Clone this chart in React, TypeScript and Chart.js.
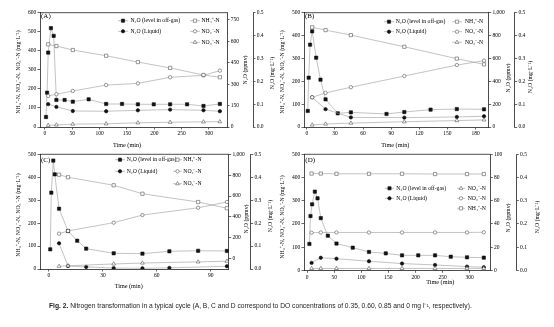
import React, { useEffect, useRef } from 'react';
import { Chart, registerables } from 'chart.js';

Chart.register(...registerables);

// ---------------- DATA ----------------
// Panel A (DO 0.35)
const aOffT = [2, 4, 6, 11, 16, 21, 36, 51, 80, 112, 141, 170, 199, 229, 260, 290, 320];
const aOffV = [70, 240, 521, 692, 638, 189, 189, 177, 194, 161, 161, 159, 159, 159, 159, 147, 161];
const aLiqT = [6, 21, 51, 112, 170, 229, 290, 320];
const aLiqV = [0.1, 0.088, 0.07, 0.069, 0.073, 0.076, 0.073, 0.069];
const aNT = [6, 21, 51, 112, 170, 229, 290, 320];
const aNH4 = [434, 425, 404, 374, 341, 310, 273, 261];
const aNO2 = [163, 172, 189, 220, 229, 261, 271, 296];
const aNO3 = [9, 11, 15, 17, 22, 25, 27, 28];

// Panel B (DO 0.60)
const bOffT = [1, 2, 3.5, 5.7, 10, 14.6, 20, 33, 47, 85, 104, 132, 160, 189];
const bOffV = [140, 431, 720, 837, 606, 414, 242, 120, 128, 114, 131, 152, 157, 155];
const bLiqT = [5.7, 20, 47, 104, 160, 189];
const bLiqV = [0.13, 0.078, 0.042, 0.041, 0.044, 0.047];
const bNT = [5.7, 20, 47, 104, 160, 189];
const bNH4 = [436, 424, 402, 351, 299, 274];
const bNO2 = [130, 149, 174, 223, 271, 290];
const bNO3 = [9, 13, 17, 23, 28, 31];

// Panel C (DO 0.85)
const cOffT = [0.7, 1.3, 2.4, 3.2, 5.6, 10.6, 15.7, 20.7, 36, 52, 67, 83, 99];
const cOffV = [89, 632, 940, 808, 478, 264, 171, 95, 51, 47, 70, 75, 73];
const cLiqT = [5.6, 10.6, 20.7, 36, 52, 67, 99];
const cLiqV = [0.112, 0.013, 0.009, 0.004, 0.003, 0.005, 0.012];
const cNT = [5.6, 10.6, 36, 52, 83, 99];
const cNH4 = [411, 400, 365, 328, 292, 265];
const cNO2 = [154, 166, 202, 235, 267, 292];
const cNO3 = [12, 14, 22, 26, 31, 34];

// Panel D (DO 0)
const dOffT = [4, 6, 9, 14, 19, 25, 38, 54, 84, 114, 145, 175, 205, 236, 265, 295, 326];
const dOffV = [22.7, 46.8, 56.9, 67.8, 62.1, 45, 29.8, 23.1, 19.5, 15.8, 14.6, 12.9, 12.9, 12.9, 11.7, 11.2, 10.9];
const dLiqT = [8, 25, 54, 114, 175, 236, 295, 326];
const dLiqV = [0.032, 0.054, 0.05, 0.039, 0.029, 0.023, 0.016, 0.013];
const dNT = [8, 25, 54, 114, 175, 236, 295, 326];
const dNH4 = [417, 417, 416, 416, 416, 415, 415, 415];
const dNO2 = [162, 163, 163, 163, 163, 163, 163, 164];
const dNO3 = [8, 8, 8, 8, 8, 8, 8, 8];

// Labels
const LBL_OFF = 'N₂O (level in off-gas)';
const LBL_LIQ = 'N₂O (Liquid)';
const LBL_NH4 = 'NH₄⁺-N';
const LBL_NO2 = 'NO₂⁻-N';
const LBL_NO3 = 'NO₃⁻-N';
const TITLE_LEFT = 'NH₄⁺-N, NO₂⁻-N, NO₃⁻-N (mg·L⁻¹)';
const TITLE_PPMV = 'N₂O (ppmv)';
const TITLE_MGL = 'N₂O (mg·L⁻¹)';
const TITLE_TIME = 'Time (min)';
const CAPTION_BOLD = 'Fig. 2.';
const CAPTION_TEXT =
  ' Nitrogen transformation in a typical cycle (A, B, C and D correspond to DO concentrations of 0.35, 0.60, 0.85 and 0 mg l⁻¹, respectively).';

// ---------------- STYLE ----------------
const FONT = "'Liberation Serif', 'Times New Roman', serif";
const LINE = '#9a9a9a';
const MK = '#111';
const HOLLOW = '#555';

type Kind = 'rect' | 'circle' | 'triangle';

const panels = [
  {
    letter: '(A)', left: 0, top: 0, W: 277, H: 150,
    area: { l: 40, r: 227, t: 12.7, b: 127 }, y1w: 26,
    x: [-9, 333, 50], y: [0, 600, 100], y1: [0, 800, 150], y2: [0, 0.5, 0.1],
    letterPos: [41, 16],
    tLeft: [18, 72], tPpmv: [245, 70], tMgl: [272, 73], tTime: [127, 145.7],
    legRows: [20.7, 31.3, 42.3], c1: [118, 128, 130.5], c2: [190, 200, 201.5], order2: ['NH4', 'NO2', 'NO3'],
    offT: aOffT, offV: aOffV, liqT: aLiqT, liqV: aLiqV, nT: aNT, nh4: aNH4, no2: aNO2, no3: aNO3,
  },
  {
    letter: '(B)', left: 277, top: 0, W: 277, H: 150,
    area: { l: 27, r: 211.7, t: 12.7, b: 127 }, y1w: 26,
    x: [-3, 194, 30], y: [0, 500, 100], y1: [0, 1000, 200], y2: [0, 0.5, 0.1],
    letterPos: [28, 16],
    tLeft: [5, 72], tPpmv: [231.7, 78], tMgl: [253.7, 77], tTime: [118.3, 145.7],
    legRows: [21.7, 31.7, 42.3], c1: [107, 117, 118.7], c2: [175, 185, 188], order2: ['NH4', 'NO2', 'NO3'],
    offT: bOffT, offV: bOffV, liqT: bLiqT, liqV: bLiqV, nT: bNT, nh4: bNH4, no2: bNO2, no3: bNO3,
  },
  {
    letter: '(C)', left: 0, top: 145, W: 277, H: 150,
    area: { l: 40, r: 228.7, t: 9.3, b: 124 }, y1w: 22,
    x: [-5, 100, 30], y: [0, 500, 100], y1: [-100, 1000, 200], y2: [0, 0.5, 0.1],
    letterPos: [41, 15],
    tLeft: [18.3, 70], tPpmv: [246.7, 74], tMgl: [270.7, 71], tTime: [128.7, 141.7],
    legRows: [14.7, 26.3, 38.7], c1: [115, 125, 126.7], c2: [173, 182, 183.3], order2: ['NH4', 'NO2', 'NO3'],
    offT: cOffT, offV: cOffV, liqT: cLiqT, liqV: cLiqV, nT: cNT, nh4: cNH4, no2: cNO2, no3: cNO3,
  },
  {
    letter: '(D)', left: 277, top: 145, W: 277, H: 150,
    area: { l: 27, r: 213.3, t: 9.3, b: 125.3 }, y1w: 26,
    x: [-6, 338, 50], y: [0, 500, 100], y1: [0, 100, 20], y2: [0, 0.5, 0.1],
    letterPos: [28.3, 15],
    tLeft: [5, 72], tPpmv: [231.7, 73], tMgl: [260, 72], tTime: [163.3, 137.3],
    legRows: [43.3, 53.3, 63.3], c1: [108, 117, 119.3], c2: [180, 188, 190.7], order2: ['NO3', 'NO2', 'NH4'],
    offT: dOffT, offV: dOffV, liqT: dLiqT, liqV: dLiqV, nT: dNT, nh4: dNH4, no2: dNO2, no3: dNO3,
  },
];

type P = (typeof panels)[number];

const pts = (t: number[], v: number[]) => t.map((x, i) => ({ x, y: v[i] }));

function drawMarker(ctx: CanvasRenderingContext2D, kind: Kind, x: number, y: number, filled: boolean) {
  ctx.save();
  ctx.lineWidth = 0.6;
  ctx.strokeStyle = filled ? MK : HOLLOW;
  ctx.fillStyle = filled ? MK : '#fff';
  ctx.beginPath();
  if (kind === 'rect') {
    const s = 1.6;
    ctx.rect(x - s, y - s, 2 * s, 2 * s);
  } else if (kind === 'circle') {
    ctx.arc(x, y, 1.7, 0, Math.PI * 2);
  } else {
    const r = 2.2;
    ctx.moveTo(x, y - r);
    ctx.lineTo(x + r * 0.866, y + r * 0.5);
    ctx.lineTo(x - r * 0.866, y + r * 0.5);
    ctx.closePath();
  }
  ctx.fill();
  ctx.stroke();
  ctx.restore();
}

function ds(label: string, data: any[], axis: string, kind: Kind, filled: boolean, radius: number) {
  return {
    label,
    data,
    yAxisID: axis,
    borderColor: LINE,
    borderWidth: 0.6,
    pointStyle: kind,
    pointRadius: radius,
    pointBorderWidth: 0.6,
    pointBackgroundColor: filled ? MK : '#fff',
    pointBorderColor: filled ? MK : HOLLOW,
    tension: 0,
    fill: false,
  };
}

function scale(range: number[], position: string, extra: any = {}) {
  return {
    type: 'linear',
    position,
    min: range[0],
    max: range[1],
    border: { display: true, color: '#000', width: 0.7 },
    grid: { display: true, drawOnChartArea: false, drawTicks: true, tickLength: 2.5, color: '#000', lineWidth: 0.6 },
    ticks: {
      stepSize: range[2],
      includeBounds: false,
      autoSkip: false,
      maxRotation: 0,
      color: '#000',
      padding: 1.2,
      font: { family: FONT, size: 5.5 },
    },
    title: { display: false },
    ...extra,
  };
}

function makeConfig(p: P): any {
  const legendInfo: Record<string, [string, Kind]> = {
    NH4: [LBL_NH4, 'rect'],
    NO2: [LBL_NO2, 'circle'],
    NO3: [LBL_NO3, 'triangle'],
  };
  const deco = {
    id: 'deco',
    afterDraw(chart: any) {
      const ctx: CanvasRenderingContext2D = chart.ctx;
      const a = chart.chartArea;
      ctx.save();
      // top frame line
      ctx.strokeStyle = '#000';
      ctx.lineWidth = 0.7;
      ctx.beginPath();
      ctx.moveTo(a.left, a.top);
      ctx.lineTo(a.right, a.top);
      ctx.stroke();
      ctx.fillStyle = '#000';
      // panel letter
      ctx.font = `7px ${FONT}`;
      ctx.textAlign = 'left';
      ctx.textBaseline = 'middle';
      ctx.fillText(p.letter, p.letterPos[0], p.letterPos[1]);
      // legend
      ctx.font = `5.7px ${FONT}`;
      const leg = (cx: number[], row: number, label: string, kind: Kind, filled: boolean) => {
        ctx.strokeStyle = LINE;
        ctx.lineWidth = 0.6;
        ctx.beginPath();
        ctx.moveTo(cx[0], row);
        ctx.lineTo(cx[1], row);
        ctx.stroke();
        drawMarker(ctx, kind, (cx[0] + cx[1]) / 2, row, filled);
        ctx.fillStyle = '#000';
        ctx.fillText(label, cx[2], row);
      };
      leg(p.c1, p.legRows[0], LBL_OFF, 'rect', true);
      leg(p.c1, p.legRows[1], LBL_LIQ, 'circle', true);
      p.order2.forEach((k, i) => {
        const [lbl, kind] = legendInfo[k];
        leg(p.c2, p.legRows[i], lbl, kind, false);
      });
      // axis titles
      const vtitle = (txt: string, x: number, y: number) => {
        ctx.save();
        ctx.translate(x, y);
        ctx.rotate(-Math.PI / 2);
        ctx.textAlign = 'center';
        ctx.textBaseline = 'middle';
        ctx.fillStyle = '#000';
        ctx.fillText(txt, 0, 0);
        ctx.restore();
      };
      ctx.font = `5.8px ${FONT}`;
      vtitle(TITLE_LEFT, p.tLeft[0], p.tLeft[1]);
      vtitle(TITLE_PPMV, p.tPpmv[0], p.tPpmv[1]);
      vtitle(TITLE_MGL, p.tMgl[0], p.tMgl[1]);
      ctx.font = `6.2px ${FONT}`;
      ctx.textAlign = 'center';
      ctx.textBaseline = 'middle';
      ctx.fillText(TITLE_TIME, p.tTime[0], p.tTime[1]);
      ctx.restore();
    },
  };

  const y2w = p.W - p.area.r - p.y1w;
  return {
    type: 'line',
    data: {
      datasets: [
        ds(LBL_NH4, pts(p.nT, p.nh4), 'y', 'rect', false, 2.3),
        ds(LBL_NO2, pts(p.nT, p.no2), 'y', 'circle', false, 1.7),
        ds(LBL_NO3, pts(p.nT, p.no3), 'y', 'triangle', false, 2.2),
        ds(LBL_LIQ, pts(p.liqT, p.liqV), 'y2', 'circle', true, 1.7),
        ds(LBL_OFF, pts(p.offT, p.offV), 'y1', 'rect', true, 2.3),
      ],
    },
    options: {
      animation: false,
      responsive: false,
      devicePixelRatio: 1,
      layout: { padding: { top: p.area.t, left: 0, right: 0, bottom: 0 } },
      plugins: { legend: { display: false }, tooltip: { enabled: false } },
      scales: {
        x: scale(p.x, 'bottom', {
          afterFit: (s: any) => {
            s.height = p.H - p.area.b;
          },
        }),
        y: scale(p.y, 'left', {
          afterFit: (s: any) => {
            s.width = p.area.l;
          },
        }),
        y1: scale(p.y1, 'right', {
          weight: 0,
          afterFit: (s: any) => {
            s.width = p.y1w;
          },
        }),
        y2: (() => {
          const s: any = scale(p.y2, 'right', {
            weight: 1,
            afterFit: (sc: any) => {
              sc.width = y2w;
            },
          });
          s.ticks.callback = (v: number) => Number(v).toFixed(1);
          return s;
        })(),
      },
    },
    plugins: [deco],
  };
}

function PanelChart({ p }: { p: P }) {
  const ref = useRef<HTMLCanvasElement>(null);
  useEffect(() => {
    const chart = new Chart(ref.current as HTMLCanvasElement, makeConfig(p));
    return () => chart.destroy();
  }, [p]);
  return (
    <canvas
      ref={ref}
      width={p.W}
      height={p.H}
      style={{ position: 'absolute', left: p.left, top: p.top, width: p.W, height: p.H }}
    />
  );
}

export default function App() {
  return (
    <div style={{ position: 'absolute', left: 0, top: 0, width: 554, height: 327, background: '#fff', overflow: 'hidden' }}>
      {panels.map((p) => (
        <PanelChart key={p.letter} p={p} />
      ))}
      <div
        style={{
          position: 'absolute',
          left: 49,
          top: 301.5,
          fontFamily: "'Liberation Sans', Arial, sans-serif",
          fontSize: 6.7,
          lineHeight: '8px',
          whiteSpace: 'nowrap',
          color: '#222',
        }}
      >
        <b>{CAPTION_BOLD}</b>
        {CAPTION_TEXT}
      </div>
    </div>
  );
}
